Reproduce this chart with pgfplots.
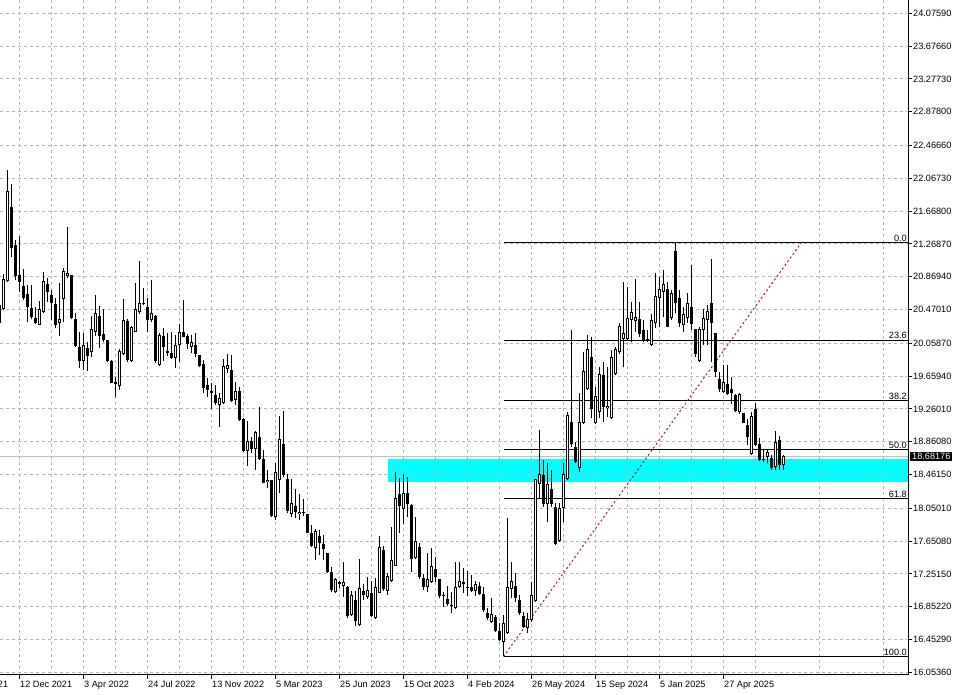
\documentclass[border=0pt]{standalone}
\usepackage{pgfplots}
\pgfplotsset{compat=1.18}
\usepackage{pgfplotstable}
\usepackage{fontspec}
\setmainfont{Liberation Sans}
\definecolor{gridgray}{RGB}{180,180,180}
\definecolor{fibred}{RGB}{170,25,25}
\definecolor{zonecyan}{RGB}{0,255,255}
\definecolor{pricegray}{RGB}{192,192,192}

\pgfplotstableread{
w o h l c
-5 20.525 20.566 20.282 20.302
-4 20.476 20.898 20.464 20.837
-3 20.821 22.168 20.809 21.913
-2 21.718 21.998 21.113 21.223
-1 21.255 21.316 20.829 20.882
0 20.890 21.365 20.687 20.809
1 20.756 20.967 20.586 20.606
2 20.655 20.768 20.322 20.505
3 20.492 20.768 20.350 20.375
4 20.367 20.505 20.290 20.302
5 20.277 20.574 20.277 20.472
6 20.444 20.927 20.432 20.817
7 20.781 20.858 20.566 20.687
8 20.647 20.708 20.342 20.545
9 20.537 20.606 20.241 20.286
10 20.302 20.789 20.152 20.355
11 20.594 20.979 20.322 20.939
12 20.882 21.474 20.850 20.915
13 20.890 20.895 20.355 20.363
14 20.355 20.424 20.018 20.030
15 20.014 20.196 19.754 19.847
16 19.847 20.188 19.734 20.038
17 20.002 20.079 19.726 19.908
18 19.949 20.391 19.888 20.233
19 20.200 20.647 20.152 20.424
20 20.391 20.517 19.998 20.152
21 20.172 20.472 20.079 20.099
22 20.099 20.105 19.827 19.843
23 19.843 19.850 19.571 19.580
24 19.592 19.653 19.409 19.559
25 19.543 19.989 19.490 19.965
26 19.924 20.594 19.916 20.338
27 20.330 20.350 19.835 19.855
28 19.843 20.269 19.827 20.261
29 20.200 20.797 20.192 20.476
30 20.436 21.061 20.415 20.545
31 20.553 20.736 20.525 20.533
32 20.505 20.606 20.200 20.342
33 20.338 20.829 20.322 20.424
34 20.391 20.400 19.815 19.843
35 19.795 20.180 19.787 20.160
36 20.152 20.241 19.848 20.018
37 19.965 20.180 19.905 19.945
38 19.941 20.193 19.868 19.884
39 19.884 20.160 19.754 20.038
40 20.034 20.294 19.836 20.193
41 20.196 20.586 20.135 20.140
42 20.148 20.172 19.990 20.046
43 20.018 20.160 19.937 20.071
44 20.038 20.180 19.896 19.925
45 19.917 19.920 19.775 19.787
46 19.803 19.856 19.450 19.519
47 19.552 19.633 19.410 19.491
48 19.478 19.572 19.255 19.458
49 19.430 19.552 19.308 19.328
50 19.304 19.450 19.044 19.389
51 19.336 19.868 19.316 19.783
52 19.742 19.929 19.694 19.791
53 19.734 19.921 19.349 19.361
54 19.369 19.592 19.308 19.478
55 19.478 19.531 19.113 19.125
56 19.138 19.145 18.740 18.748
57 18.748 19.109 18.570 18.874
58 18.870 18.923 18.720 18.768
59 18.768 18.992 18.517 18.975
60 18.914 19.288 18.639 18.655
61 18.647 18.760 18.355 18.363
62 18.367 18.517 18.302 18.395
63 18.395 18.400 17.949 17.961
64 17.941 18.598 17.908 18.488
65 18.395 19.178 18.241 18.894
66 18.829 19.235 18.436 18.452
67 18.403 18.464 17.989 18.022
68 17.985 18.407 17.949 18.111
69 18.079 18.281 17.928 18.002
70 17.977 18.221 17.908 18.002
71 18.006 18.160 17.961 17.989
72 17.977 17.985 17.746 17.754
73 17.746 17.847 17.584 17.596
74 17.563 17.799 17.421 17.778
75 17.717 17.786 17.482 17.624
76 17.612 17.726 17.421 17.555
77 17.502 17.510 17.267 17.279
78 17.271 17.332 17.028 17.056
79 17.028 17.198 17.016 17.190
80 17.149 17.170 17.076 17.125
81 17.109 17.393 16.975 17.149
82 17.093 17.100 16.719 16.740
83 16.752 17.044 16.740 16.995
84 16.934 17.048 16.622 16.683
85 16.634 17.433 16.622 17.076
86 17.044 17.129 16.934 16.999
87 16.967 17.218 16.951 17.056
88 17.024 17.166 16.731 16.744
89 16.719 17.206 16.699 17.089
90 17.024 17.713 17.016 17.584
91 17.543 17.596 17.048 17.064
92 17.048 17.259 16.995 17.227
93 17.170 17.827 17.149 17.421
94 17.352 18.488 17.348 18.172
95 18.229 18.423 17.754 18.083
96 18.046 18.468 17.859 18.233
97 18.233 18.436 17.949 18.107
98 18.091 18.100 17.279 17.437
99 17.450 17.941 17.429 17.657
100 17.575 17.632 17.186 17.218
101 17.206 17.251 17.056 17.093
102 17.089 17.502 17.036 17.194
103 17.158 17.571 17.145 17.348
104 17.312 17.462 17.153 17.210
105 17.190 17.195 16.963 16.979
106 16.999 17.036 16.853 16.979
107 16.942 17.109 16.865 16.882
108 16.878 17.028 16.780 16.857
109 16.833 17.397 16.825 17.089
110 17.097 17.393 17.080 17.166
111 17.149 17.320 17.016 17.133
112 17.093 17.287 16.987 17.084
113 17.089 17.239 17.036 17.048
114 17.040 17.166 16.987 17.129
115 17.105 17.149 16.995 17.007
116 17.007 17.097 16.792 16.813
117 16.780 16.833 16.691 16.711
118 16.662 16.955 16.650 16.760
119 16.723 16.752 16.549 16.561
120 16.561 16.650 16.435 16.447
121 16.427 16.752 16.247 16.650
122 16.529 17.928 16.520 17.097
123 17.064 17.401 16.955 17.166
124 17.105 17.259 16.914 16.963
125 16.934 16.995 16.752 16.780
126 16.740 16.792 16.589 16.610
127 16.598 16.772 16.529 16.703
128 16.691 17.149 16.671 16.995
129 16.926 18.412 16.914 18.407
130 18.342 19.004 18.172 18.468
131 18.456 18.639 18.070 18.099
132 18.099 18.598 17.888 18.342
133 18.286 18.517 18.070 18.099
134 18.070 18.111 17.604 17.616
135 17.657 18.111 17.644 18.058
136 18.050 18.598 17.888 18.468
137 18.403 19.227 18.395 19.186
138 19.097 20.221 18.801 18.829
139 18.793 18.862 18.598 18.618
140 18.545 19.450 18.488 19.101
141 19.093 19.957 19.077 19.726
142 19.499 20.160 19.491 19.990
143 19.896 20.140 19.154 19.255
144 19.085 19.531 19.073 19.418
145 19.219 19.775 19.146 19.681
146 19.673 19.836 19.105 19.280
147 19.267 19.775 19.166 19.300
148 19.146 19.978 19.138 19.896
149 19.681 20.018 19.673 19.990
150 19.949 20.302 19.929 20.274
151 20.111 20.809 19.767 20.180
152 20.107 20.748 20.099 20.363
153 20.343 20.566 20.079 20.436
154 20.335 20.838 20.201 20.375
155 20.351 20.566 20.140 20.168
156 20.221 20.343 20.080 20.099
157 20.087 20.221 20.079 20.107
158 20.038 20.416 20.030 20.343
159 20.302 20.919 20.241 20.639
160 20.606 20.870 20.262 20.716
161 20.679 20.951 20.375 20.781
162 20.716 20.809 20.253 20.262
163 20.363 20.708 20.343 20.675
164 21.183 21.287 20.424 20.546
165 20.606 20.708 20.262 20.302
166 20.282 20.505 20.201 20.412
167 20.363 20.667 20.302 20.554
168 20.505 21.012 20.221 20.294
169 20.229 20.235 19.896 19.925
170 19.848 20.262 19.835 20.229
171 20.221 20.473 20.038 20.363
172 20.343 20.525 20.038 20.456
173 20.554 21.081 19.835 20.302
174 20.180 20.189 19.645 19.714
175 19.625 19.714 19.470 19.499
176 19.470 19.795 19.458 19.592
177 19.564 19.795 19.430 19.438
178 19.499 19.653 19.316 19.450
179 19.430 19.438 19.227 19.235
180 19.227 19.450 19.198 19.438
181 19.207 19.215 19.085 19.093
182 19.065 19.134 18.821 18.923
183 18.707 19.227 18.699 19.178
184 19.259 19.336 18.809 18.821
185 18.833 18.902 18.630 18.639
186 18.647 18.772 18.618 18.639
187 18.679 18.772 18.598 18.740
188 18.659 18.699 18.517 18.537
189 18.557 18.992 18.517 18.862
190 18.882 18.931 18.517 18.578
191 18.578 18.699 18.517 18.682
}\candles

\begin{document}
\begin{tikzpicture}
\begin{axis}[
  at={(0,20bp)}, anchor=south west,
  scale only axis, width=908bp, height=675bp,
  xmin=-4.875, xmax=222.125, ymin=16.021, ymax=24.238,
  axis x line*=bottom, axis y line*=right,
  axis line style={line width=1bp, black},
  set layers=standard,
  clip mode=individual,
  font=\fontsize{9.2}{11}\selectfont,
  xtick={0,16,...,176},
  xticklabels={12 Dec 2021,3 Apr 2022,24 Jul 2022,13 Nov 2022,5 Mar 2023,25 Jun 2023,15 Oct 2023,4 Feb 2024,26 May 2024,15 Sep 2024,5 Jan 2025,27 Apr 2025},
  minor xtick={8,24,...,216},
  ytick={16.0536,16.4529,16.8522,17.2515,17.6508,18.0501,18.4615,18.8608,19.2601,19.6594,20.0587,20.4701,20.8694,21.2687,21.668,22.0673,22.4666,22.878,23.2773,23.6766,24.0759},
  yticklabels={16.05360,16.45290,16.85220,17.25150,17.65080,18.05010,18.46150,18.86080,19.26010,19.65940,20.05870,20.47010,20.86940,21.26870,21.66800,22.06730,22.46660,22.87800,23.27730,23.67660,24.07590},
  xmajorgrids, xminorgrids, ymajorgrids,
  grid style={gridgray, line width=1bp, dash pattern=on 3bp off 3bp},
  minor grid style={gridgray, line width=1bp, dash pattern=on 3bp off 3bp},
  tick align=outside, major tick length=4bp, minor tick length=0pt,
  tick style={black, line width=1bp},
  xticklabel style={anchor=north west, inner sep=0pt, xshift=0.5bp, yshift=-2bp},
  yticklabel style={anchor=west, inner sep=0pt, xshift=1bp},
]
% support zone
\addplot[fill=zonecyan, draw=none, on layer=axis background] coordinates {(92,18.374) (222.125,18.374) (222.125,18.645) (92,18.645)} -- cycle;
% current price line
\addplot[pricegray, line width=1bp] coordinates {(-4.875,18.68176) (222.125,18.68176)};
% Fibonacci levels
\addplot[black, line width=1bp] coordinates {(121,21.287) (222.125,21.287)};
\addplot[black, line width=1bp] coordinates {(121,20.098) (222.125,20.098)};
\addplot[black, line width=1bp] coordinates {(121,19.362) (222.125,19.362)};
\addplot[black, line width=1bp] coordinates {(121,18.767) (222.125,18.767)};
\addplot[black, line width=1bp] coordinates {(121,18.172) (222.125,18.172)};
\addplot[black, line width=1bp] coordinates {(121,16.247) (222.125,16.247)};
% trend line
\addplot[fibred, line width=1bp, dash pattern=on 2bp off 2.5bp] coordinates {(121,16.247) (195.5,21.287)};
% wicks
\addplot[draw=none, mark=none, error bars/.cd, y dir=plus, y explicit, error mark=none,
  error bar style={draw=black, line width=1bp, solid}]
  table[x=w, y=l, y error plus expr=\thisrow{h}-\thisrow{l}] {\candles};
% bodies (black outline / fill)
\addplot[draw=none, mark=none, error bars/.cd, y dir=plus, y explicit, error mark=none,
  error bar style={draw=black, line width=3bp, line cap=butt, solid}]
  table[x=w, y expr={min(\thisrow{o},\thisrow{c})}, y error plus expr={max(abs(\thisrow{c}-\thisrow{o}),0.012)}] {\candles};
% bullish bodies interior
\addplot[draw=none, mark=none, error bars/.cd, y dir=plus, y explicit, error mark=none,
  error bar style={draw=white, line width=1.1bp, line cap=butt, solid}]
  table[x=w, y expr={min(\thisrow{o},\thisrow{c})+0.012}, y error plus expr={max(\thisrow{c}-\thisrow{o}-0.024,0)}] {\candles};
% labels
\node[anchor=south east, inner sep=1bp, font=\fontsize{9.2}{11}\selectfont] at (axis cs:222.125,21.287) {0.0};
\node[anchor=south east, inner sep=1bp, font=\fontsize{9.2}{11}\selectfont] at (axis cs:222.125,20.098) {23.6};
\node[anchor=south east, inner sep=1bp, font=\fontsize{9.2}{11}\selectfont] at (axis cs:222.125,19.362) {38.2};
\node[anchor=south east, inner sep=1bp, font=\fontsize{9.2}{11}\selectfont] at (axis cs:222.125,18.767) {50.0};
\node[anchor=south east, inner sep=1bp, font=\fontsize{9.2}{11}\selectfont] at (axis cs:222.125,18.172) {61.8};
\node[anchor=south east, inner sep=1bp, font=\fontsize{9.2}{11}\selectfont] at (axis cs:222.125,16.247) {100.0};
\node[anchor=west, fill=black, text=white, inner xsep=2bp, inner ysep=1.5bp, font=\fontsize{9.2}{11}\selectfont] at ([xshift=2bp]axis cs:222.125,18.68176) {18.68176};
\node[anchor=north west, inner sep=0pt, font=\fontsize{9.2}{11}\selectfont] at ([xshift=0.5bp,yshift=-6bp]axis cs:-16,16.021) {22 Aug 2021};
\end{axis}
\pgfresetboundingbox
\path[use as bounding box] (0,0) rectangle (959bp,695bp);
\end{tikzpicture}
\end{document}
